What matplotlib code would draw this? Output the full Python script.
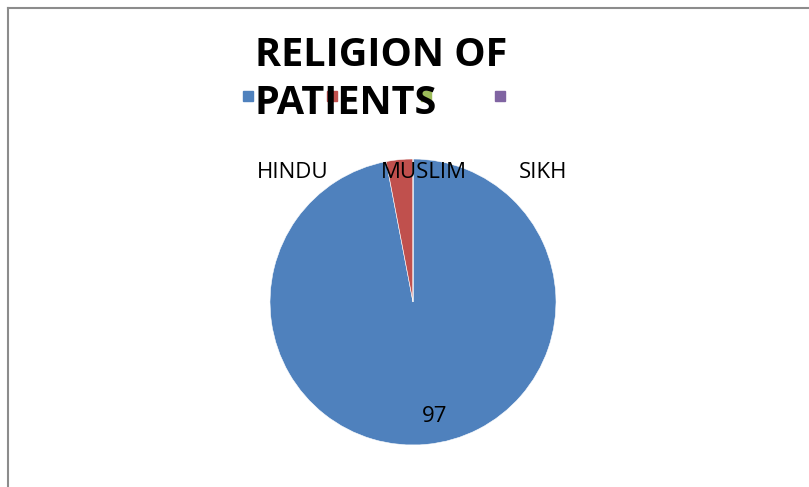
import matplotlib
matplotlib.use("Agg")
import matplotlib.pyplot as plt
from matplotlib.patches import Rectangle
from matplotlib.lines import Line2D

categories = ["HINDU", "MUSLIM", "SIKH", ""]
values = [97, 3, 0, 0]
colors = ["#4F81BD", "#C0504D", "#9BBB59", "#8064A2"]
title = "RELIGION OF\nPATIENTS"

W, H = 809, 487
fig = plt.figure(figsize=(W / 100, H / 100), dpi=100)
plt.rcParams["font.family"] = ["Open Sans", "DejaVu Sans"]

# pie axes (pixel layout from the reference)
cx, cy, r = 413, 302, 143
ax = fig.add_axes([(cx - r) / W, (H - cy - r) / H, 2 * r / W, 2 * r / H])
ax.pie(values, colors=colors, startangle=90, counterclock=False, radius=1,
       wedgeprops=dict(edgecolor="white", linewidth=0.4))
ax.set_xlim(-1, 1)
ax.set_ylim(-1, 1)
ax.set_aspect("equal")

# category labels across the top of the pie
label_x = [293, 424, 543]
for name, x in zip(categories[:3], label_x):
    fig.text(x / W, 1 - 172 / H, name, ha="center", va="center", fontsize=16)

# value label for the big slice
fig.text(435 / W, 1 - 416 / H, str(values[0]), ha="center", va="center", fontsize=16)

# legend markers (labels are blank)
marker_x = [248, 332, 426, 500]
for c, x in zip(colors, marker_x):
    fig.patches.append(Rectangle(((x - 5) / W, 1 - 101 / H), 10 / W, 10 / H,
                                 transform=fig.transFigure, color=c, zorder=1))

fig.text(255 / W, 1 - 80 / H, title, ha="left", va="center", fontsize=28.5,
         fontweight="bold", linespacing=1.3, multialignment="left", zorder=5)

# chart area border (top and left visible)
fig.lines.append(Line2D([8 / W, 1], [1 - 8 / H, 1 - 8 / H], transform=fig.transFigure,
                        color="#8c8c8c", linewidth=1.5))
fig.lines.append(Line2D([8 / W, 8 / W], [0, 1 - 8 / H], transform=fig.transFigure,
                        color="#8c8c8c", linewidth=1.5))

fig.savefig("out.png", dpi=100)
